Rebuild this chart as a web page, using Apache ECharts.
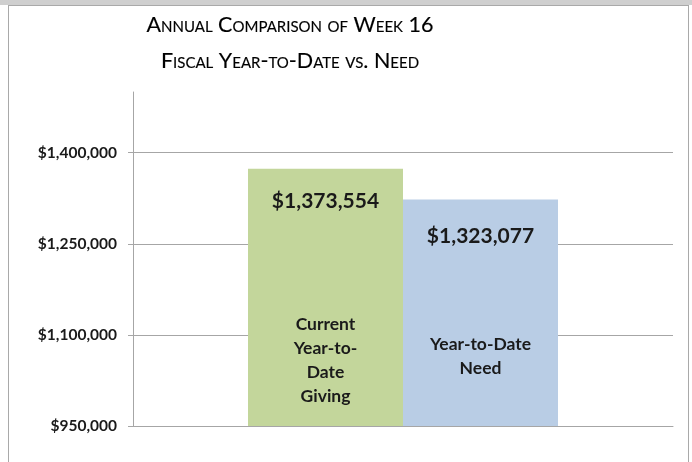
<!DOCTYPE html>
<html>
<head>
<meta charset="utf-8">
<script src="https://cdn.jsdelivr.net/npm/echarts@6/dist/echarts.min.js"></script>
<style>
  html, body { margin: 0; padding: 0; background: #fff; }
  #topbar { position: absolute; left: 0; top: 0; width: 692px; height: 5px; background: #cfcfcf; }
  #chart {
    position: absolute; left: 8px; top: 5px; width: 681px; height: 457px;
    box-sizing: border-box; border: 1px solid #a9a9a9; border-bottom: none; background: #fff;
  }
</style>
</head>
<body>
<div id="topbar"></div>
<div id="chart"></div>
<script>
// data
const categories = ["Week 16"];
const seriesNames = ["Current Year-to-Date Giving", "Year-to-Date Need"];
const givingValues = [1373554];
const needValues = [1323077];
const barLabels = ["Current\nYear-to-\nDate\nGiving", "Year-to-Date\nNeed"];
const tickValues = [950000, 1100000, 1250000, 1400000];
const axisMin = 950000;
const axisMax = 1500000;

const money = v => "$" + Number(v).toLocaleString("en-US");
const gridColor = "#a6a6a6";
const textColor = "#1a1a1a";

let myChart = echarts.init(document.getElementById("chart"));

let valueLabel = (dist) => ({
  show: true,
  position: "insideTop",
  distance: dist,
  formatter: p => money(p.value),
  color: textColor,
  fontFamily: "Lato",
  fontWeight: "bold",
  fontSize: 21,
  lineHeight: 24
});

let nameLabel = (text, dist) => ({
  show: true,
  position: "insideBottom",
  distance: dist,
  formatter: () => text,
  color: textColor,
  fontFamily: "Lato",
  fontWeight: "bold",
  fontSize: 17.5,
  lineHeight: 24,
  align: "center"
});

myChart.setOption({
  animation: false,
  title: {
    text: "Annual Comparison of Week 16\nFiscal Year-to-Date vs. Need",
    left: 281,
    top: 1,
    padding: 0,
    textAlign: "center",
    textStyle: {
      fontFamily: "Lato",
      fontStyle: "small-caps",
      fontWeight: "normal",
      fontSize: 21.5,
      lineHeight: 36,
      color: "#000",
      textBorderColor: "#000",
      textBorderWidth: 0.15
    }
  },
  grid: {
    left: 124,
    right: 15,
    top: 86,
    bottom: 36
  },
  xAxis: [
    {
      type: "category",
      data: categories,
      axisLine: { lineStyle: { color: gridColor, width: 1 } },
      axisTick: { show: false },
      axisLabel: { show: false }
    },
    {
      type: "category",
      data: categories,
      show: false
    }
  ],
  yAxis: {
    type: "value",
    min: axisMin,
    max: axisMax,
    axisLine: { show: true, lineStyle: { color: gridColor } },
    axisTick: { show: true, length: 5, customValues: tickValues, lineStyle: { color: gridColor } },
    axisLabel: {
      customValues: tickValues,
      formatter: v => money(v),
      margin: 16,
      color: textColor,
      fontFamily: "Lato",
      fontWeight: "bold",
      fontSize: 15.5
    },
    splitLine: { show: true, lineStyle: { color: gridColor } }
  },
  series: [
    {
      name: seriesNames[0],
      type: "bar",
      xAxisIndex: 0,
      barWidth: 155,
      barGap: "0%",
      data: givingValues,
      itemStyle: { color: "#c3d69b" },
      label: valueLabel(20)
    },
    {
      name: seriesNames[1],
      type: "bar",
      xAxisIndex: 0,
      barWidth: 155,
      barGap: "0%",
      data: needValues,
      itemStyle: { color: "#b9cde5" },
      label: valueLabel(25)
    },
    {
      name: seriesNames[0] + " label",
      type: "bar",
      xAxisIndex: 1,
      barWidth: 155,
      barGap: "0%",
      data: givingValues,
      silent: true,
      itemStyle: { color: "rgba(0,0,0,0)" },
      label: nameLabel(barLabels[0], 18)
    },
    {
      name: seriesNames[1] + " label",
      type: "bar",
      xAxisIndex: 1,
      barWidth: 155,
      barGap: "0%",
      data: needValues,
      silent: true,
      itemStyle: { color: "rgba(0,0,0,0)" },
      label: nameLabel(barLabels[1], 46)
    }
  ]
});
</script>
</body>
</html>
